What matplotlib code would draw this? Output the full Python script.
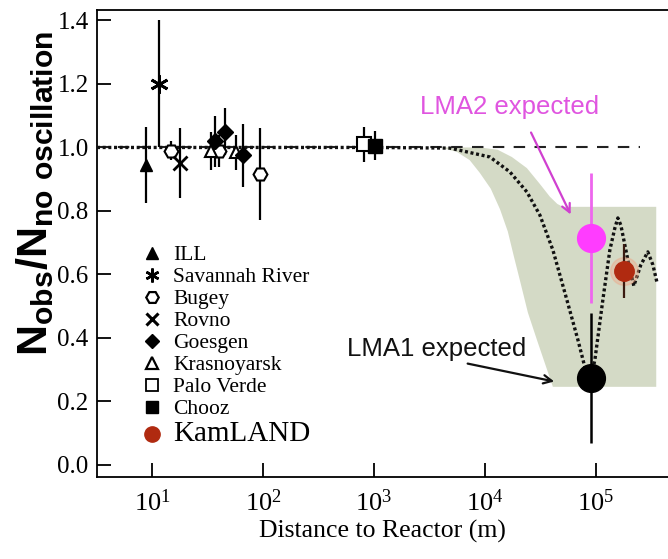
import numpy as np
import matplotlib
matplotlib.use("Agg")
import matplotlib.pyplot as plt
from matplotlib.lines import Line2D

plt.rcParams['font.family'] = ['Liberation Serif', 'DejaVu Serif']
plt.rcParams['mathtext.fontset'] = 'custom'
plt.rcParams['mathtext.bf'] = 'Liberation Sans:bold'
plt.rcParams['mathtext.rm'] = 'Liberation Sans'

# reactor experiments: distance (m), ratio, error
ill_x = [8.8]
ill_y = [0.945]
ill_err = [0.12]

savannah_x = [11.6]
savannah_y = [1.20]
savannah_err = [0.20]

bugey_x = [15, 40, 95]
bugey_y = [0.99, 0.99, 0.915]
bugey_err = [0.03, 0.05, 0.145]

rovno_x = [18]
rovno_y = [0.95]
rovno_err = [0.11]

goesgen_x = [37, 46, 66]
goesgen_y = [1.02, 1.05, 0.975]
goesgen_err = [0.08, 0.075, 0.10]

krasnoyarsk_x = [34, 57]
krasnoyarsk_y = [0.99, 0.985]
krasnoyarsk_err = [0.06, 0.055]

paloverde_x = [820]
paloverde_y = [1.01]
paloverde_err = [0.055]

chooz_x = [1020]
chooz_y = [1.006]
chooz_err = [0.045]

kamland_x = [1.8e5]
kamland_y = [0.611]
kamland_err = [0.085]

# expectations at KamLAND
lma2_x = [9.0e4]
lma2_y = [0.714]
lma2_err = [0.205]
lma1_x = [9.0e4]
lma1_y = [0.273]
lma1_err = [0.205]

# oscillation curve (dotted)
curve_x = [3.2, 1000, 4840, 11100, 16800, 23900, 31300, 41000, 54800, 68900,
           83000, 90200, 98000, 115600, 133700, 148000, 157800, 168000, 178600,
           194100, 219800, 254100, 293800, 326600, 354800]
curve_y = [1.0, 1.0, 0.998, 0.970, 0.923, 0.860, 0.787, 0.677, 0.520, 0.394,
           0.283, 0.274, 0.331, 0.520, 0.677, 0.745, 0.778, 0.755, 0.709,
           0.646, 0.564, 0.630, 0.671, 0.630, 0.576]

# allowed band: lower edge then upper edge
band_lo_x = [3940, 5600, 7300, 9000, 11300, 13700, 16100, 18300, 20900, 24400,
             29700, 41000, 350000]
band_lo_y = [1.0, 0.986, 0.96, 0.92, 0.87, 0.805, 0.735, 0.655, 0.575, 0.48,
             0.39, 0.246, 0.246]
band_hi_x = [9020, 13000, 17500, 23900, 31300, 38500, 45000, 50500, 350000]
band_hi_y = [1.0, 0.993, 0.97, 0.935, 0.885, 0.845, 0.822, 0.813, 0.813]

ref_level = 1.0
ref_end = 2.5e5

ytick_vals = [0.0, 0.2, 0.4, 0.6, 0.8, 1.0, 1.2, 1.4]
xtick_vals = [1e1, 1e2, 1e3, 1e4, 1e5]

fig = plt.figure(figsize=(6.68, 5.59), dpi=100)
ax = fig.add_axes([0.1452, 0.1467, 0.8548, 0.8354])
ax.set_xscale('log')
ax.set_xlim(10 ** 0.505, 10 ** 5.65)
ax.set_ylim(-0.038, 1.433)

# shaded band
poly_x = band_lo_x + band_hi_x[::-1]
poly_y = band_lo_y + band_hi_y[::-1]
ax.fill(poly_x, poly_y, color='#d4dac6', lw=0, zorder=1)

ax.plot([ax.get_xlim()[0], ref_end], [ref_level, ref_level], color='#222222',
        lw=1.5, ls=(0, (5.5, 4.5)), zorder=2)
ax.plot(curve_x, curve_y, color='#111111', lw=2.4, ls=(0, (0.9, 0.8)), zorder=3)

eb = dict(capsize=0, elinewidth=1.6, ecolor='black', zorder=5)
ax.errorbar(ill_x, ill_y, yerr=ill_err, fmt='^', ms=9, color='black', **eb)
ax.errorbar(savannah_x, savannah_y, yerr=savannah_err, fmt='none', **eb)
ax.plot(savannah_x, savannah_y, ls='none', marker=(6, 2, 0), ms=13, mew=2, color='black', zorder=6)
ax.errorbar(bugey_x, bugey_y, yerr=bugey_err, fmt='H', ms=10, mfc='white', mec='black',
            mew=1.5, **eb)
ax.errorbar(rovno_x, rovno_y, yerr=rovno_err, fmt='x', ms=10, mew=2, color='black', **eb)
ax.errorbar(krasnoyarsk_x, krasnoyarsk_y, yerr=krasnoyarsk_err, fmt='^', ms=9, mfc='white',
            mec='black', mew=1.5, **eb)
ax.errorbar(goesgen_x, goesgen_y, yerr=goesgen_err, fmt='D', ms=8, color='black', **eb)
ax.errorbar(paloverde_x, paloverde_y, yerr=paloverde_err, fmt='s', ms=10, mfc='white',
            mec='black', mew=1.5, **eb)
ax.errorbar(chooz_x, chooz_y, yerr=chooz_err, fmt='s', ms=10, color='black', **eb)

ax.errorbar(lma2_x, lma2_y, yerr=lma2_err, fmt='o', ms=20, color='#ff3cff',
            ecolor='#ee66ee', elinewidth=2, capsize=0, zorder=6)
ax.errorbar(lma1_x, lma1_y, yerr=lma1_err, fmt='o', ms=20, color='black',
            ecolor='black', elinewidth=1.8, capsize=0, zorder=6)
ax.plot(kamland_x, kamland_y, 'o', ms=20, color='#f2a080', alpha=0.35, zorder=6)
ax.errorbar(kamland_x, kamland_y, yerr=kamland_err, fmt='o', ms=14, color='#b02a10',
            ecolor='#3a1a10', elinewidth=1.6, capsize=0, zorder=7)

# annotations
ax.text(1.68e4, 1.128, 'LMA2 expected', color='#e055e0', fontsize=18.5,
        family='Liberation Sans', ha='center', va='center', zorder=8)
ax.annotate('', xy=(6.08e4, 0.781), xytext=(2.54e4, 1.055),
            arrowprops=dict(arrowstyle='->,head_length=0.6,head_width=0.3',
                            color='#d040d0', lw=1.6), zorder=8)
ax.text(3.7e3, 0.366, 'LMA1 expected', color='#111111', fontsize=18.5,
        family='Liberation Sans', ha='center', va='center', zorder=8)
ax.annotate('', xy=(4.46e4, 0.261), xytext=(6.61e3, 0.321),
            arrowprops=dict(arrowstyle='->,head_length=0.6,head_width=0.3',
                            color='#111111', lw=1.6), zorder=8)

# legend
handles = [
    Line2D([], [], ls='none', marker='^', ms=8, color='black'),
    Line2D([], [], ls='none', marker=(6, 2, 0), ms=10, mew=1.8, color='black'),
    Line2D([], [], ls='none', marker='H', ms=9, mfc='white', mec='black', mew=1.6),
    Line2D([], [], ls='none', marker='x', ms=9, mew=2.2, color='black'),
    Line2D([], [], ls='none', marker='D', ms=7, color='black'),
    Line2D([], [], ls='none', marker='^', ms=8, mfc='white', mec='black', mew=1.6),
    Line2D([], [], ls='none', marker='s', ms=8.5, mfc='white', mec='black', mew=1.3),
    Line2D([], [], ls='none', marker='s', ms=8.5, color='black'),
    Line2D([], [], ls='none', marker='o', ms=11, color='#b02a10'),
]
labels = ['ILL', 'Savannah River', 'Bugey', 'Rovno', 'Goesgen', 'Krasnoyarsk',
          'Palo Verde', 'Chooz', 'KamLAND']
leg = ax.legend(handles, labels, loc='upper left', frameon=False, fontsize=15.5,
                handlelength=0.9, handletextpad=0.55, labelspacing=0.09,
                borderpad=0, borderaxespad=0,
                bbox_to_anchor=(142 / 668, 1 - 245 / 559), bbox_transform=fig.transFigure)
leg.get_texts()[-1].set_fontsize(21)

# axes styling
ax.spines['right'].set_visible(False)
for s in ['left', 'bottom', 'top']:
    ax.spines[s].set_linewidth(1.3)
ax.set_yticks(ytick_vals)
ax.set_yticklabels(['%.1f' % v for v in ytick_vals])
ax.set_xticks(xtick_vals)
ax.minorticks_off()
ax.tick_params(axis='both', direction='in', length=10, width=1.3)
ax.tick_params(axis='y', labelsize=18, pad=6)
ax.tick_params(axis='x', labelsize=19, pad=9)
ax.tick_params(top=False, right=False)

ax.set_xlabel('Distance to Reactor (m)', fontsize=18.5, labelpad=3)
fig.text(0.052, 1 - 193 / 559, r'$\mathbf{N_{obs}/N_{no\ oscillation}}$',
         rotation=90, fontsize=31, ha='center', va='center')

fig.savefig('out.png', dpi=100)
